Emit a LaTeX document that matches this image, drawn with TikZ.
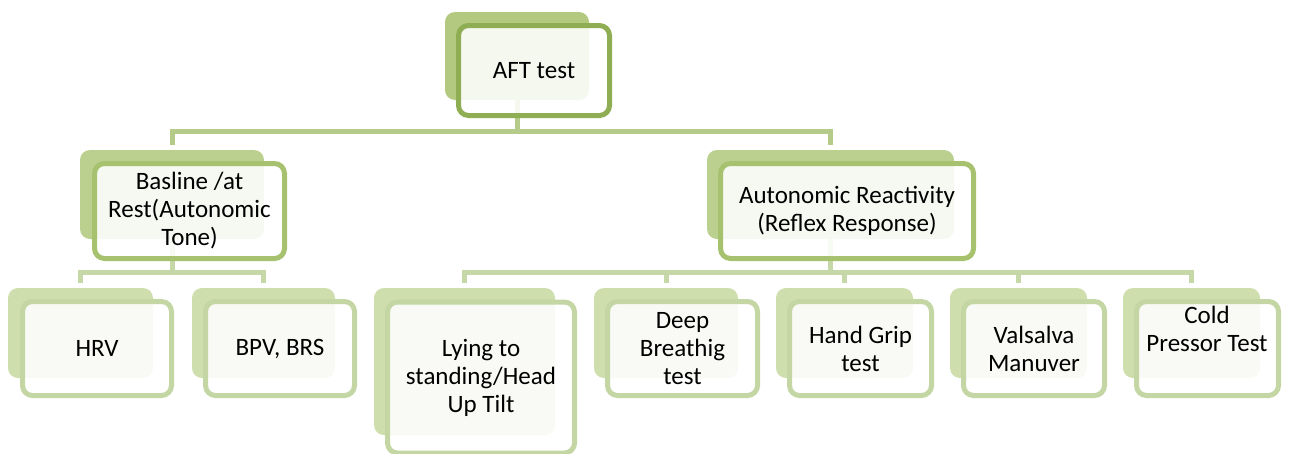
\documentclass[tikz,border=0pt]{standalone}
\usepackage{fontspec}
\setmainfont{Carlito}
\pgfdeclarelayer{bg}
\pgfsetlayers{bg,main}
\definecolor{bkA}{HTML}{B3C97F}
\definecolor{lnA}{HTML}{8FAD52}
\definecolor{bkB}{HTML}{BBCF8F}
\definecolor{lnB}{HTML}{A7C26F}
\definecolor{bkC}{HTML}{CEDEAD}
\definecolor{lnC}{HTML}{C3D6A3}
\definecolor{busA}{HTML}{B5CB89}
\definecolor{busB}{HTML}{C7D8A8}
\begin{document}
\begin{tikzpicture}[x=1pt,y=-1pt,
  back/.style={draw=none, rounded corners=10pt, inner sep=0pt},
  front/.style={rounded corners=10pt, line width=5pt, fill=white, fill opacity=0.88,
     text opacity=1, inner sep=0pt, align=center, text=black,
     font=\fontsize{25}{28}\selectfont},
  txt/.style={align=center, text=black, inner sep=0pt, font=\fontsize{25}{28}\selectfont},
  linkA/.style={draw=busA, line width=5pt, shorten >=5pt},
  linkB/.style={draw=busB, line width=5pt, shorten >=5pt}]
\clip (0,0) rectangle (1310,453);
\useasboundingbox (0,0) rectangle (1310,453);
% level 1
\node[back, fill=bkA, minimum width=144pt, minimum height=88pt] (aftB) at (517,56) {};
\node[front, draw=lnA, minimum width=151pt, minimum height=90pt] (aft) at (534,70.5) {AFT test};
% level 2
\node[back, fill=bkB, minimum width=184pt, minimum height=89pt] (basB) at (172,194.5) {};
\node[front, draw=lnB, minimum width=190pt, minimum height=95pt] (bas) at (189.5,211) {Basline /at\\Rest(Autonomic\\Tone)};
\node[back, fill=bkB, minimum width=247pt, minimum height=89pt] (autB) at (830.5,194.5) {};
\node[front, draw=lnB, minimum width=253pt, minimum height=95pt] (aut) at (847,211) {Autonomic Reactivity\\(Reflex Response)};
% level 3
\node[back, fill=bkC, minimum width=145pt, minimum height=90pt] (hrvB) at (80.5,333) {};
\node[front, draw=lnC, minimum width=149pt, minimum height=94pt] (hrv) at (97,348.5) {HRV};
\node[back, fill=bkC, minimum width=143pt, minimum height=90pt] (bpvB) at (263.5,333) {};
\node[front, draw=lnC, minimum width=149pt, minimum height=94pt] (bpv) at (280,348.5) {BPV, BRS};
\node[back, fill=bkC, minimum width=181pt, minimum height=147pt] (lyiB) at (464.5,361.5) {};
\node[front, draw=lnC, minimum width=187pt, minimum height=151pt] (lyi) at (481,377.5) {Lying to\\standing/Head\\Up Tilt};
\node[back, fill=bkC, minimum width=144pt, minimum height=90pt] (deeB) at (666,333) {};
\node[front, draw=lnC, minimum width=150pt, minimum height=94pt] (dee) at (682.5,348.5) {Deep\\Breathig\\test};
\node[back, fill=bkC, minimum width=137pt, minimum height=90pt] (hanB) at (844.5,333) {};
\node[front, draw=lnC, minimum width=142pt, minimum height=94pt] (han) at (860.5,348.5) {Hand Grip\\test};
\node[back, fill=bkC, minimum width=137pt, minimum height=90pt] (valB) at (1018.5,333) {};
\node[front, draw=lnC, minimum width=141pt, minimum height=94pt] (val) at (1034,348.5) {Valsalva\\Manuver};
\node[back, fill=bkC, minimum width=137pt, minimum height=90pt] (colB) at (1191.5,333) {};
\node[front, draw=lnC, minimum width=142pt, minimum height=94pt] (col) at (1207.5,348.5) {};
\node[txt] (colT) at (1207,329) {Cold\\Pressor Test};
% connectors
\coordinate (busOne) at (0,131);
\coordinate (busTwo) at (0,272);
\begin{pgfonlayer}{bg}
\draw[linkA] (aftB.center) -- (aftB.center |- busOne) -| (basB.north);
\draw[linkA] (aftB.center) -- (aftB.center |- busOne) -| (autB.north);
\draw[linkB] (basB.center) -- (basB.center |- busTwo) -| (hrvB.north);
\draw[linkB] (basB.center) -- (basB.center |- busTwo) -| (bpvB.north);
\draw[linkB] (autB.center) -- (autB.center |- busTwo) -| (lyiB.north);
\draw[linkB] (autB.center) -- (autB.center |- busTwo) -| (deeB.north);
\draw[linkB] (autB.center) -- (autB.center |- busTwo) -| (hanB.north);
\draw[linkB] (autB.center) -- (autB.center |- busTwo) -| (valB.north);
\draw[linkB] (autB.center) -- (autB.center |- busTwo) -| (colB.north);
\end{pgfonlayer}
\end{tikzpicture}
\end{document}
